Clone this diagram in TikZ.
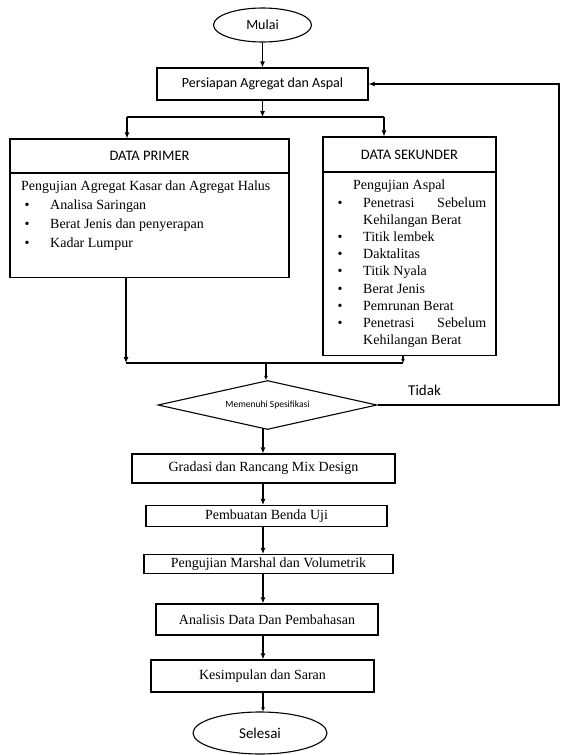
\documentclass[tikz,border=0pt]{standalone}
\usepackage{fontspec}
\setmainfont{Liberation Serif}
\newfontfamily\sansf{Carlito}
\usetikzlibrary{shapes.geometric,arrows.meta}
\begin{document}
\begin{tikzpicture}[x=1pt,y=-1pt,
  box/.style={draw, line width=1.1pt, inner sep=0pt, font=\fontsize{14}{17}\selectfont},
  sbox/.style={box, font=\sansf\fontsize{14}{17}\selectfont},
  arr/.style={line width=1.1pt, -{Latex[length=6pt,width=5pt]}},
  sarr/.style={line width=1.1pt, -{Latex[length=4pt,width=4pt]}},
  ln/.style={line width=1.1pt},
  txt/.style={inner sep=0pt, anchor=north west, align=left}]
\useasboundingbox[fill=white] (0,0) rectangle (560,755);
% top
\node[sbox, ellipse, minimum width=98pt, minimum height=34pt] (mulai) at (262.5,25) {Mulai};
\node[sbox, minimum width=211pt, minimum height=32pt] (persiapan) at (262.5,84) {Persiapan Agregat dan Aspal};
% data primer
\node[sbox, minimum width=279pt, minimum height=34pt, font=\sansf\fontsize{14.5}{17}\selectfont] (primerhead) at (149.5,156) {DATA PRIMER};
\node[box, minimum width=279pt, minimum height=104pt, anchor=north] (primerbody) at (149.5,173) {};
\node[txt, font=\fontsize{14}{19}\selectfont] (primertext) at (21,181) {Pengujian Agregat Kasar dan Agregat Halus\\
\hspace*{3.5pt}\makebox[25.5pt][l]{\textbullet}Analisa Saringan\\
\hspace*{3.5pt}\makebox[25.5pt][l]{\textbullet}Berat Jenis dan penyerapan\\
\hspace*{3.5pt}\makebox[25.5pt][l]{\textbullet}Kadar Lumpur};
% data sekunder
\node[sbox, minimum width=173pt, minimum height=35pt, font=\sansf\fontsize{14.5}{17}\selectfont] (sekhead) at (409.5,154.5) {DATA SEKUNDER};
\node[box, minimum width=173pt, minimum height=183pt, anchor=north] (sekbody) at (409.5,172) {};
\node[txt, font=\fontsize{14}{17.2}\selectfont] (sektext) at (337.5,180) {\hspace*{15.5pt}Pengujian Aspal\\
\makebox[25.5pt][l]{\textbullet}\makebox[123pt][s]{Penetrasi\hfill Sebelum}\\
\hspace*{25.5pt}Kehilangan Berat\\
\makebox[25.5pt][l]{\textbullet}Titik lembek\\
\makebox[25.5pt][l]{\textbullet}Daktalitas\\
\makebox[25.5pt][l]{\textbullet}Titik Nyala\\
\makebox[25.5pt][l]{\textbullet}Berat Jenis\\
\makebox[25.5pt][l]{\textbullet}Pemrunan Berat\\
\makebox[25.5pt][l]{\textbullet}\makebox[123pt][s]{Penetrasi\hfill Sebelum}\\
\hspace*{25.5pt}Kehilangan Berat};
% decision
\node[diamond, aspect=4.47, draw, line width=1.1pt, minimum width=219pt, minimum height=49pt, inner sep=0pt, font=\sansf\fontsize{9.5}{10}\selectfont] (cek) at (267.5,405) {Memenuhi Spesifikasi};
\node[inner sep=0pt, anchor=base west, font=\sansf\fontsize{15}{17}\selectfont] (tidak) at (408,395) {Tidak};
% lower chain
\node[box, minimum width=263pt, minimum height=29pt] (gradasi) at (263.5,468.5) {Gradasi dan Rancang Mix Design};
\node[box, minimum width=241pt, minimum height=21pt] (benda) at (266.5,516) {Pembuatan Benda Uji};
\node[box, minimum width=249pt, minimum height=19pt] (marshal) at (268.5,564) {Pengujian Marshal dan Volumetrik};
\node[box, minimum width=222pt, minimum height=31pt] (analisis) at (267,619.5) {Analisis Data Dan Pembahasan};
\node[box, minimum width=223pt, minimum height=32pt] (kesimpulan) at (262.5,676) {Kesimpulan dan Saran};
\node[sbox, ellipse, minimum width=134pt, minimum height=42pt, font=\sansf\fontsize{15}{17}\selectfont] (selesai) at (260,733) {Selesai};
% junction coordinates
\coordinate (j1) at (262.5,117);
\coordinate (jl) at (127,117);
\coordinate (jr) at (384,117);
\coordinate (m1) at (126,363);
\coordinate (m2) at (403,363);
\coordinate (m3) at (266,363);
\coordinate (fr) at (559,405);
\coordinate (fu) at (559,84);
\coordinate (c0) at (263,428);
% connectors
\draw[arr] (mulai.south) -- (mulai.south |- persiapan.north);
\draw[arr] (persiapan.south) -- (j1);
\draw[ln] (jl) -- (jr);
\draw[arr] (jl) -- (jl |- primerhead.north);
\draw[arr] (jr) -- (jr |- sekhead.north);
\draw[arr] (m1 |- primerbody.south) -- (m1);
\draw[sarr] (m2 |- sekbody.south) -- (m2);
\draw[ln] (m1) -- (m2);
\draw[sarr] (m3) -- (m3 |- cek.north);
\draw[arr] (cek.east) -- (fr) -- (fu) -- (persiapan.east);
\draw[arr] (c0) -- (c0 |- gradasi.north);
\draw[arr] (c0 |- gradasi.south) -- (c0 |- benda.north);
\draw[arr] (c0 |- benda.south) -- (c0 |- marshal.north);
\draw[arr] (c0 |- marshal.south) -- (c0 |- analisis.north);
\draw[arr] (c0 |- analisis.south) -- (c0 |- kesimpulan.north);
\draw[sarr] (c0 |- kesimpulan.south) -- (c0 |- selesai.north);
\end{tikzpicture}
\end{document}
